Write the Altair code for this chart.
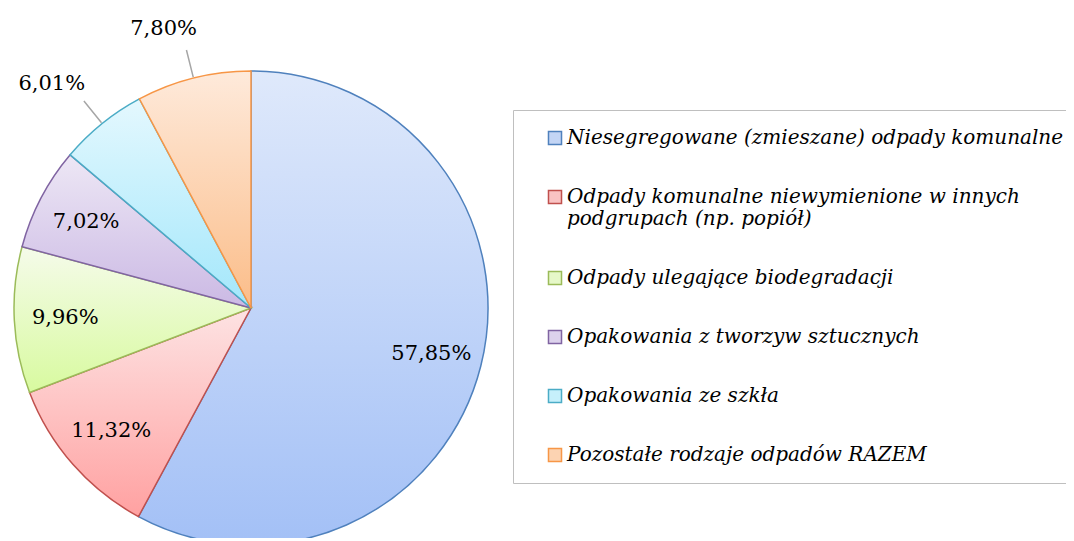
import math
import altair as alt
import pandas as pd

categories = [
    "Niesegregowane (zmieszane) odpady komunalne",
    "Odpady komunalne niewymienione w innych podgrupach (np. popiół)",
    "Odpady ulegające biodegradacji",
    "Opakowania z tworzyw sztucznych",
    "Opakowania ze szkła",
    "Pozostałe rodzaje odpadów RAZEM",
]
values = [57.85, 11.32, 9.96, 7.02, 6.01, 7.80]
labels = ["57,85%", "11,32%", "9,96%", "7,02%", "6,01%", "7,80%"]
outside = ["Opakowania ze szkła", "Pozostałe rodzaje odpadów RAZEM"]

stroke_colors = ["#4f81bd", "#c0504d", "#9bbb59", "#8064a2", "#4bacc6", "#f79646"]
grad_top = ["#dfe9fb", "#fde3e3", "#f5fbea", "#ede7f5", "#e4f8fe", "#feeadb"]
grad_bottom = ["#a3c0f6", "#ffa1a1", "#d8fa9f", "#cbb9e4", "#a3e7fb", "#fbbd89"]
legend_fill = ["#c3d5f5", "#f9c3c3", "#e6f8c8", "#dcd2ec", "#c6f0fb", "#fcd3b2"]

df = pd.DataFrame({
    "category": categories,
    "value": values,
    "label": labels,
    "order": list(range(len(categories))),
})
df["outside"] = df["category"].isin(outside)
total = float(sum(values))

base = (
    alt.Chart(df)
    .transform_window(cum="sum(value)", sort=[alt.SortField("order")], frame=[None, 0])
    .transform_calculate(start="datum.cum - datum.value", mid="datum.cum - datum.value / 2")
)
theta_scale = alt.Scale(domain=[0, total], range=[0, 2 * math.pi])

layers = []
for i in range(len(categories)):
    grad = alt.Gradient(
        gradient="linear",
        stops=[alt.GradientStop(color=grad_top[i], offset=0),
               alt.GradientStop(color=grad_bottom[i], offset=1)],
        x1=0, x2=0, y1=0, y2=1,
    )
    layers.append(
        base.transform_filter(alt.datum.order == i)
        .mark_arc(radius=237, fill=grad, stroke=stroke_colors[i], strokeWidth=1.5)
        .encode(theta=alt.Theta("start:Q", scale=theta_scale), theta2="cum:Q")
    )

leaders = (
    base.transform_filter("datum.outside")
    .mark_arc(radius=266, radius2=238, stroke="#a6a6a6", strokeWidth=1.5, fillOpacity=0)
    .encode(theta=alt.Theta("mid:Q", scale=theta_scale), theta2="mid:Q")
)

inside_text = (
    base.transform_filter("!datum.outside")
    .mark_text(radius=186, font="DejaVu Serif", fontSize=21, color="#000000")
    .encode(theta=alt.Theta("mid:Q", scale=theta_scale), text="label:N")
)
outside_text = (
    base.transform_filter("datum.outside")
    .mark_text(radius=290, dx=-17, dy=2, font="DejaVu Serif", fontSize=21, color="#000000")
    .encode(theta=alt.Theta("mid:Q", scale=theta_scale), text="label:N")
)

wrap_expr = ("length(datum.label) > 45 ? "
             "[slice(datum.label, 0, 39), slice(datum.label, 40)] : datum.label")
legend = alt.Legend(
    title=None, orient="none", legendX=500, legendY=32,
    strokeColor="#bfbfbf", fillColor="#ffffff", padding=18,
    symbolType="square", symbolSize=170, symbolStrokeWidth=1.5, symbolOpacity=1,
    symbolOffset=14,
    labelFont="DejaVu Serif", labelFontStyle="italic", labelFontSize=20,
    labelColor="#000000", labelLimit=700, labelOffset=2, rowPadding=39,
    labelExpr=wrap_expr,
)
legend_layer = (
    base.mark_arc(radius=237, opacity=0)
    .encode(
        theta=alt.Theta("start:Q", scale=theta_scale), theta2="cum:Q",
        fill=alt.Fill("category:N", scale=alt.Scale(domain=categories, range=legend_fill), legend=legend),
        stroke=alt.Stroke("category:N", scale=alt.Scale(domain=categories, range=stroke_colors), legend=legend),
    )
)

chart = (
    alt.layer(legend_layer, *layers, leaders, inside_text, outside_text)
    .properties(
        width=476, height=460,
        padding={"left": 5, "top": 70, "right": 577, "bottom": 0},
        autosize=alt.AutoSizeParams(type="none"),
        background="#ffffff",
    )
    .configure_view(stroke=None)
)

chart.save("out.html", embed_options={"renderer": "svg", "actions": False})
